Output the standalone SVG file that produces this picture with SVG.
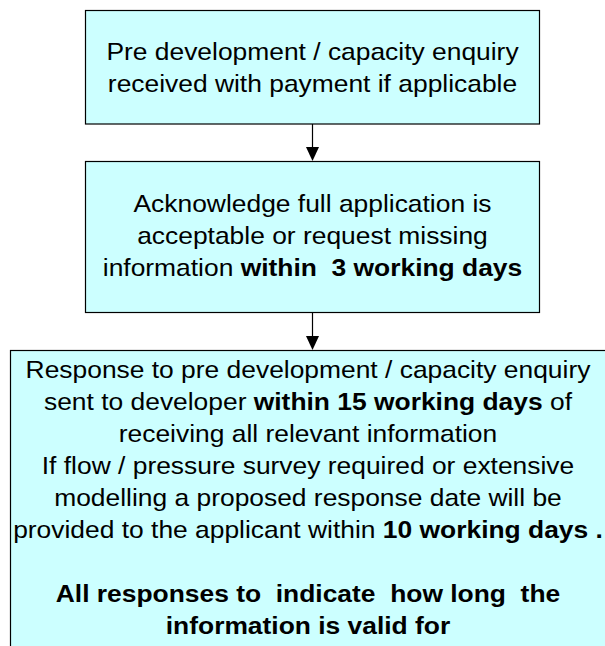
<svg xmlns="http://www.w3.org/2000/svg" width="605" height="646" viewBox="0 0 605 646">
  <style>
    .box { fill: #CCFFFF; stroke: #000; stroke-width: 1.2; }
    .t { font-family: "Liberation Sans", Arial, Helvetica, sans-serif; font-size: 24px; fill: #000; text-anchor: middle; white-space: pre; }
    .b { font-weight: bold; }
    .link { stroke: #000; stroke-width: 1.2; fill: none; }
    .head { fill: #000; stroke: none; }
  </style>
  <rect width="605" height="646" fill="#fff"/>

  <!-- step 1: enquiry received -->
  <g id="enquiry">
    <rect class="box" x="85.5" y="10.5" width="454" height="113.5"/>
    <g transform="translate(312.5 0) scale(1.1 1) translate(-312.5 0)">
      <text class="t" x="312.5" y="60">Pre development / capacity enquiry</text>
      <text class="t" x="312.5" y="92">received with payment if applicable</text>
    </g>
  </g>

  <!-- step 2: acknowledgement -->
  <g id="acknowledge">
    <rect class="box" x="85.5" y="161.5" width="454" height="151"/>
    <g transform="translate(312.5 0) scale(1.1 1) translate(-312.5 0)">
      <text class="t" x="312.5" y="212">Acknowledge full application is</text>
      <text class="t" x="312.5" y="244">acceptable or request missing</text>
      <text class="t" x="312.5" y="276">information <tspan class="b">within  3 working days</tspan></text>
    </g>
  </g>

  <!-- step 3: response to developer -->
  <g id="response">
    <rect class="box" x="10.5" y="350.5" width="600" height="310"/>
    <g transform="translate(308 0) scale(1.1 1) translate(-308 0)">
      <text class="t" x="308" y="378">Response to pre development / capacity enquiry</text>
      <text class="t" x="308" y="410">sent to developer <tspan class="b">within 15 working days</tspan> of</text>
      <text class="t" x="308" y="442">receiving all relevant information</text>
      <text class="t" x="308" y="474">If flow / pressure survey required or extensive</text>
      <text class="t" x="308" y="506">modelling a proposed response date will be</text>
      <text class="t" x="308" y="538">provided to the applicant within <tspan class="b">10 working days .</tspan></text>
      <text class="t b" x="308" y="602">All responses to  indicate  how long  the</text>
      <text class="t b" x="308" y="634">information is valid for</text>
    </g>
  </g>

  <!-- connectors -->
  <g id="connectors">
    <line class="link" x1="312.5" y1="124" x2="312.5" y2="148"/>
    <polygon class="head" points="306,147 319,147 312.5,161"/>
    <line class="link" x1="312.5" y1="312.5" x2="312.5" y2="337"/>
    <polygon class="head" points="306,336 319,336 312.5,350"/>
  </g>
</svg>
